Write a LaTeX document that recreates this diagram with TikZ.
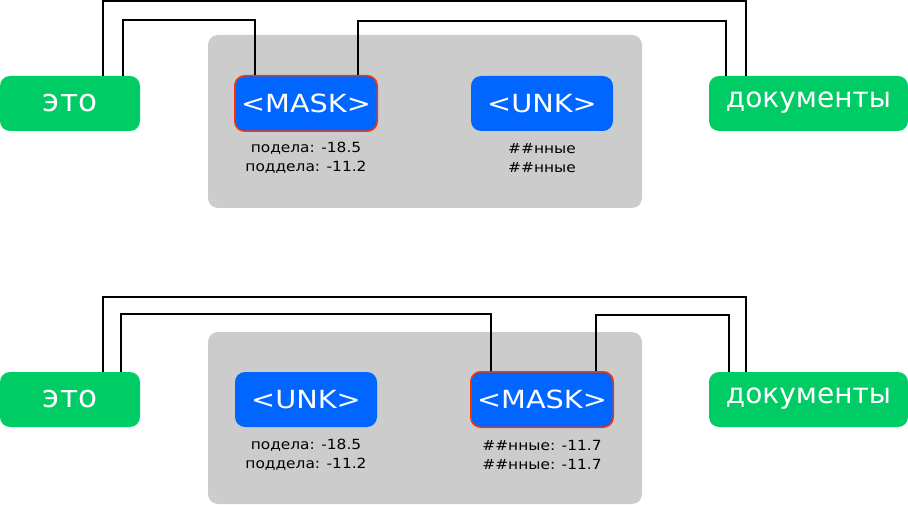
\documentclass[tikz,border=0pt]{standalone}
\usepackage{fontspec}
\setmainfont{DejaVu Sans}
\newfontfamily\tokfont[FakeStretch=1.15]{DejaVu Sans}
\newfontfamily\scorefont[FakeStretch=1.1]{DejaVu Sans}
\usetikzlibrary{positioning}
\definecolor{wordgreen}{HTML}{00CC66}
\definecolor{tokblue}{HTML}{0066FF}
\definecolor{maskred}{HTML}{FF3300}
\definecolor{panelgray}{HTML}{CCCCCC}

\begin{document}
\begin{tikzpicture}[x=1pt,y=-1pt,node distance=236pt,on grid,
	word/.style={fill=wordgreen,text=white,rounded corners=10pt,inner sep=0pt,
		minimum width=140pt,minimum height=55pt,text height=16pt,text depth=0pt,
		font=\fontsize{31}{31}\selectfont},
	longword/.style={word,minimum width=199pt,text height=7.5pt,font=\fontsize{28}{28}\selectfont},
	token/.style={fill=tokblue,text=white,rounded corners=10pt,inner sep=0pt,
		minimum width=142pt,minimum height=55pt,text height=18.5pt,text depth=0pt,
		font=\tokfont\fontsize{25}{25}\selectfont},
	masked/.style={token,draw=maskred,line width=1.5pt,minimum width=142.5pt,minimum height=55.5pt},
	panel/.style={fill=panelgray,rounded corners=10pt,minimum width=434pt,minimum height=173pt},
	score/.style={align=center,inner sep=0pt,font=\scorefont\fontsize{14}{19}\selectfont},
	link/.style={line width=1.6pt}]
	\useasboundingbox (0,0) rectangle (908,505);
	% upper row
	\node[panel] (panel1) at (425,121.5) {};
	\node[word] (eto1) at (70,103.5) {это};
	\node[masked] (mask1) [right=of eto1] {<MASK>};
	\node[token] (unk1) [right=of mask1] {<UNK>};
	\node[longword] (doc1) [right=266.5pt of unk1] {документы};
	\node[score] (sc1) [below=54.5pt of mask1] {подела: -18.5\\поддела: -11.2};
	\node[score] (sc2) [below=54.5pt of unk1] {\#\#нные\\\#\#нные};
	\draw[link] ([xshift=33pt]eto1.north) -- ++(0,-75) -| ([xshift=-62.5pt]doc1.north);
	\draw[link] ([xshift=53pt]eto1.north) -- ++(0,-56) -| ([xshift=-51pt]mask1.north);
	\draw[link] ([xshift=52pt]mask1.north) -- ++(0,-54) -| ([xshift=-82.5pt]doc1.north);
	% lower row
	\node[panel,minimum height=172pt] (panel2) at (425,418) {};
	\node[word] (eto2) at (70,399.5) {это};
	\node[token] (unk2) [right=of eto2] {<UNK>};
	\node[masked] (mask2) [right=of unk2] {<MASK>};
	\node[longword] (doc2) [right=266.5pt of mask2] {документы};
	\node[score] (sc3) [below=55pt of unk2] {подела: -18.5\\поддела: -11.2};
	\node[score] (sc4) [below=55pt of mask2] {\#\#нные: -11.7\\\#\#нные: -11.7};
	\draw[link] ([xshift=33pt]eto2.north) -- ++(0,-75) -| ([xshift=-62.5pt]doc2.north);
	\draw[link] ([xshift=51pt]eto2.north) -- ++(0,-58) -| ([xshift=-51pt]mask2.north);
	\draw[link] ([xshift=54pt]mask2.north) -- ++(0,-56) -| ([xshift=-79.5pt]doc2.north);
\end{tikzpicture}
\end{document}
